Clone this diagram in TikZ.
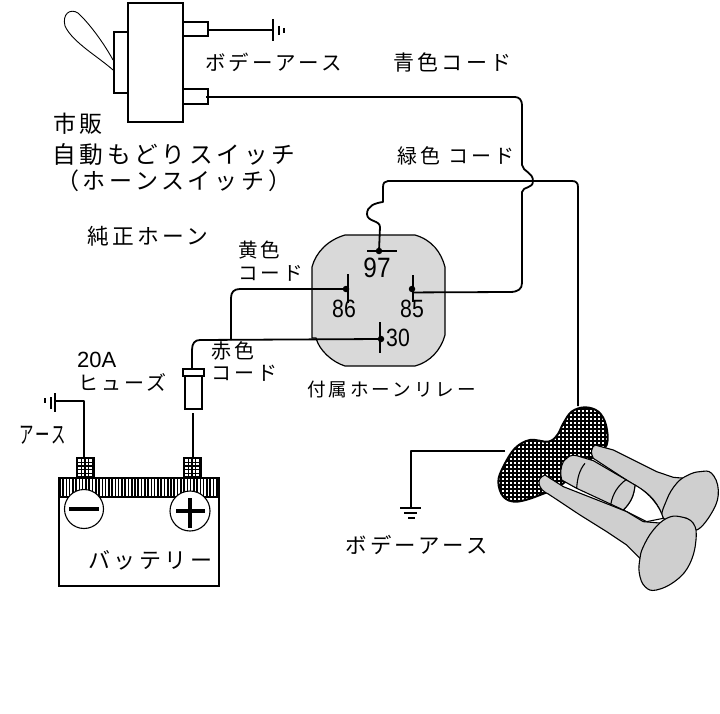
\documentclass[tikz,border=0pt]{standalone}
\usepackage{fontspec}
\setmainfont{Liberation Sans}
\newfontfamily\jp[LetterSpace=16]{Noto Sans CJK JP}
\tikzset{
  wire/.style={line width=1.8pt,line join=round},
  part/.style={draw,line width=1.8pt,fill=white},
  term/.style={line width=1.2pt},
  dotnode/.style={circle,fill=black,inner sep=0pt,minimum size=6.5pt},
  lab/.style={anchor=west,inner sep=0pt,font=\jp\fontsize{#1}{#1}\selectfont},
  num/.style={anchor=center,inner sep=0pt,font=\fontsize{#1}{#1}\selectfont},
  hornline/.style={draw=black,line width=1.1pt},
  zoomed/.style={x=.3333pt,y=-.3333pt}
}
\definecolor{relaygray}{HTML}{D9D9D9}
\definecolor{horngray}{HTML}{CFCFCF}
\begin{document}
\begin{tikzpicture}[x=1pt,y=-1pt]
\useasboundingbox (0,0) rectangle (720,714);
\fill[white] (0,0) rectangle (720,714);
% relay body
\draw[fill=relaygray,line width=1.2pt] (345,235) -- (415,235) .. controls (432,240) and (441,252) .. (445,267)
  -- (445,335) .. controls (441,350) and (430,362) .. (415,366) -- (345,366)
  .. controls (332,362) and (319,350) .. (316,338) -- (312,338) -- (312,267) .. controls (316,252) and (328,240) .. (345,235) -- cycle;
% switch
\draw[line width=.9pt,fill=white] (113,70) .. controls (100,58) and (72,42) .. (65,26)
  .. controls (62,14) and (70,8) .. (78,13) .. controls (90,24) and (105,45) .. (113,60);
\draw[part] (114,32) rectangle (128,93);
\draw[part] (128,3) rectangle (183,122);
\draw[part] (183,22) rectangle (208,36);
\draw[part] (183,89) rectangle (208,104);
\coordinate (swup) at (208,30);
\coordinate (swlow) at (206,97);
\coordinate (gnd1) at (273,30);
\draw[wire] (swup) -- (gnd1);
\draw[wire] (273,19) -- (273,41);
\draw[line width=1.3pt] (279,26) -- (279,35);
\draw[line width=1.1pt] (284,28) -- (284,33);
% terminals
\coordinate (t97) at (379,251);
\coordinate (t86) at (346,289);
\coordinate (t85) at (412,289);
\coordinate (t30) at (381,339);
\draw[term] (367,251) -- (397,251);
\draw[term] (348,274) -- (348,303);
\draw[term] (413,275) -- (413,302);
\draw[line width=1.5pt] (380,322) -- (380,353);
\node[dotnode] (d97) at (t97) {};
\node[dotnode] (d86) at (t86) {};
\node[dotnode] (d85) at (t85) {};
\node[dotnode] (d30) at (t30) {};
% blue cord: switch to 85
\draw[wire] (swlow) -- (515,97) .. controls (519,97) and (522,100) .. (522,105) -- (522,165)
  .. controls (523,172) and (533,172) .. (533,181) .. controls (533,189) and (523,186) .. (522,192)
  -- (522,283) .. controls (522,289) and (518,292) .. (510,292) -- (d85.south);
% green cord: horn to 97
\coordinate (hornup) at (578,406);
\draw[wire] (hornup) -- (578,187) .. controls (578,183) and (576,181) .. (572,181) -- (388,181)
  .. controls (385,181) and (383,183) .. (383,187) -- (383,202) .. controls (375,203) and (367,206) .. (367,214)
  .. controls (367,222) and (380,220) .. (380,227) -- (d97.center);
% yellow cord: 86 to red
\coordinate (jn) at (231,340);
\draw[wire] (d86.center) -- (240,289) .. controls (234,289) and (231,292) .. (231,298) -- (jn);
% red cord: 30 to fuse
\coordinate (fusetop) at (192,369);
\draw[wire] (d30.center) -- (200,340) .. controls (195,340) and (192,343) .. (192,350) -- (fusetop);
% fuse
\draw[part] (185,376) rectangle (202,409);
\draw[part] (183,369) rectangle (204,376);
% battery
\draw[line width=1.8pt,fill=white] (59,478) rectangle (219,586);
\begin{scope}
  \clip (59,478) rectangle (219,497);
  \fill[white] (59,478) rectangle (219,497);
  \foreach \i in {0,...,49} \fill[black] ({59+\i*3.27},478) rectangle ({60.6+\i*3.27},497);
\end{scope}
\draw[line width=1.8pt] (59,478) rectangle (219,497);
\foreach \cx in {76,183}{
  \fill[black] (\cx,457) rectangle ({\cx+19},478);
  \foreach \a in {0,...,3}\foreach \b in {0,...,4}
    \fill[white] ({\cx+2.4+\a*3.6},{459.3+\b*3.6}) rectangle ({\cx+4.8+\a*3.6},{461.7+\b*3.6});
}
\coordinate (bminus) at (84,457);
\coordinate (bplus) at (193,457);
\coordinate (fusebot) at (193,413);
\draw[wire] (fusebot) -- (bplus);
\draw[wire] (bminus) -- (84,401) -- (55,401);
\draw[wire] (55,393) -- (55,412);
\draw[line width=1.3pt] (51,397) -- (51,409);
\draw[line width=1.3pt] (45,398) -- (45,403);
\draw[line width=1.1pt,fill=white] (84,509) circle (19.5);
\draw[line width=1.1pt,fill=white] (190,511) circle (20);
\draw[line width=3.6pt] (69,509) -- (99,509);
\draw[line width=3.6pt] (176,511) -- (205,511);
\draw[line width=3.6pt] (190,498) -- (190,528);
% horn
\begin{scope}
  \clip [shift={(480,390)},zoomed]
    plot[smooth cycle,tension=.6] coordinates {(232,135)(250,100)(275,65)(315,52)(355,65)(378,105)(380,165)(340,200)(250,280)(180,315)(110,335)(70,320)(55,275)(70,230)(105,175)(150,150)(205,155)};
  \fill[black] (480,390) rectangle (720,610);
  \foreach \a in {0,...,44}\foreach \b in {0,...,30}
    \fill[white] ({498+\a*4},{402+\b*4}) rectangle ({500.2+\a*4},{404.2+\b*4});
\end{scope}
\begin{scope}[shift={(480,390)},zoomed]
  \draw[line width=2pt] plot[smooth cycle,tension=.6] coordinates {(232,135)(250,100)(275,65)(315,52)(355,65)(378,105)(380,165)(340,200)(250,280)(180,315)(110,335)(70,320)(55,275)(70,230)(105,175)(150,150)(205,155)};
  \path[fill=horngray,hornline] (345,165) -- (400,180) -- (460,210) -- (530,245) -- (580,262) -- (615,265) -- (550,385) .. controls (535,340) and (510,310) .. (470,290) -- (340,205) .. controls (330,190) and (335,170) .. (345,165) -- cycle;
  \path[fill=horngray,hornline] plot[smooth cycle,tension=.7] coordinates {(550,385)(560,330)(590,280)(625,255)(660,245)(695,250)(715,300)(700,360)(650,420)(620,385)};
  \path[fill=white,hornline] (465,285) .. controls (510,310) and (540,350) .. (550,385) -- (500,395) -- (430,360) .. controls (450,340) and (462,320) .. (465,285) -- cycle;
  \path[fill=horngray,hornline] (250,215) .. controls (262,200) and (275,192) .. (290,197) -- (340,212) -- (465,285) .. controls (462,320) and (450,340) .. (430,360) -- (290,295) -- (245,270) .. controls (240,250) and (242,230) .. (250,215) -- cycle;
  \draw[line width=1.1pt] (315,220) .. controls (298,240) and (292,265) .. (290,295);
  \draw[line width=1.1pt] (440,268) .. controls (415,285) and (398,310) .. (392,345);
  \path[fill=horngray,hornline] (195,255) -- (250,290) -- (390,345) -- (440,365) -- (490,395) -- (550,400) -- (480,505) -- (440,465) -- (380,425) -- (300,375) -- (205,312) .. controls (175,300) and (165,265) .. (195,255) -- cycle;
  \path[fill=horngray,hornline] plot[smooth cycle,tension=.7] coordinates {(480,505)(490,470)(520,420)(560,385)(600,380)(640,400)(648,450)(630,520)(590,570)(530,600)(495,590)(478,550)};
\end{scope}
\coordinate (hornl) at (505,451);
\coordinate (gnd2) at (411,507);
\draw[wire] (hornl) -- (411,451) -- (gnd2);
\draw[line width=1.3pt] (400,508) -- (421,508);
\draw[line width=1.2pt] (404,513) -- (417,513);
\draw[line width=1.2pt] (408,518) -- (415,518);
% labels
\node[lab=20.5] (l1) at (205,62) {ボデーアース};
\node[lab=21] (l2) at (393,63) {青色コード};
\node[lab=23] (l3) at (53,124) {市販};
\node[lab=23.7] (l4) at (52,155) {自動もどりスイッチ};
\node[lab=23] (l5) at (56,181) {（ホーンスイッチ）};
\node[lab=20] (l6) at (397,156) {緑色 コード};
\node[lab=21.7] (l7) at (87,236) {純正ホーン};
\node[lab=19.6] (l8) at (238,250) {黄色};
\node[lab=19.6] (l9) at (238,273) {コード};
\node[num=28] (n97) at (377,268) {\scalebox{.87}[1]{97}};
\node[num=25] (n86) at (344,309) {\scalebox{.85}[1]{86}};
\node[num=25] (n85) at (412,309) {\scalebox{.85}[1]{85}};
\node[num=25] (n30) at (398,338) {\scalebox{.85}[1]{30}};
\node[num=22,anchor=west] (l10) at (77,360) {20A};
\node[lab=20] (l11) at (78,382) {ヒューズ};
\node[lab=20] (l12) at (211,351) {赤色};
\node[lab=20] (l13) at (211,373) {コード};
\node[lab=18.6] (l14) at (307,390) {付属ホーンリレー};
\node[lab=24] (l15) at (19,435) {\scalebox{.6}[1]{アース}};
\node[lab=22] (l16) at (88,560) {バッテリー};
\node[lab=21.4] (l17) at (345,545) {ボデーアース};
\end{tikzpicture}
\end{document}
